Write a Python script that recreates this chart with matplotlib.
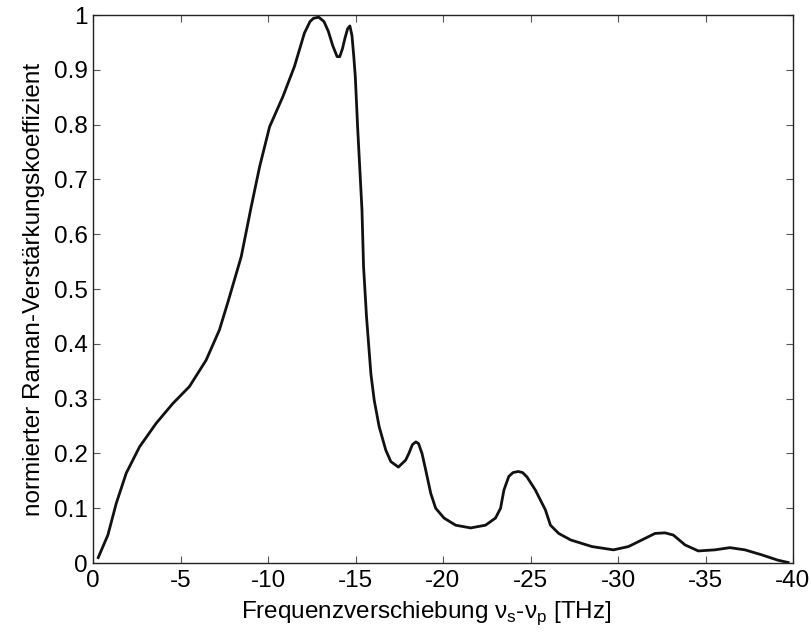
import numpy as np
import matplotlib
matplotlib.use('Agg')
import matplotlib.pyplot as plt

# frequency shift nu_s - nu_p [THz] and normalised Raman gain
shift = [-0.3, -0.85, -1.33, -1.9, -2.66, -3.61, -4.56, -5.51, -6.46, -7.22,
         -7.7, -8.47, -9.04, -9.52, -10.09, -10.85, -11.51, -12.08, -12.4, -12.6,
         -12.9, -13.2, -13.45, -13.7, -13.95, -14.1, -14.25, -14.4, -14.55, -14.68,
         -14.8, -14.9, -14.99, -15.12, -15.27, -15.37, -15.46, -15.63, -15.88, -16.07,
         -16.35, -16.73, -17.02, -17.45, -17.87, -18.05, -18.25, -18.45, -18.6, -18.8,
         -19.01, -19.3, -19.58, -20.06, -20.72, -21.58, -22.43, -23.0, -23.29, -23.48,
         -23.76, -24.0, -24.3, -24.55, -24.8, -25.28, -25.85, -26.14, -26.61, -27.3,
         -28.51, -29.74, -30.6, -31.36, -32.12, -32.69, -33.16, -33.83, -34.59, -35.54,
         -36.39, -37.25, -38.2, -39.15, -39.72]
gain = [0.010, 0.051, 0.109, 0.164, 0.212, 0.255, 0.291, 0.322, 0.370, 0.425,
        0.475, 0.559, 0.650, 0.723, 0.796, 0.851, 0.906, 0.967, 0.988, 0.994,
        0.996, 0.988, 0.970, 0.944, 0.924, 0.924, 0.938, 0.958, 0.975, 0.980,
        0.962, 0.925, 0.887, 0.796, 0.705, 0.644, 0.541, 0.449, 0.345, 0.297,
        0.249, 0.206, 0.185, 0.175, 0.188, 0.200, 0.216, 0.221, 0.218, 0.200,
        0.170, 0.127, 0.100, 0.082, 0.069, 0.064, 0.069, 0.082, 0.100, 0.133,
        0.158, 0.165, 0.167, 0.165, 0.157, 0.133, 0.097, 0.069, 0.054, 0.042,
        0.030, 0.024, 0.030, 0.042, 0.054, 0.055, 0.051, 0.033, 0.022, 0.024,
        0.028, 0.024, 0.015, 0.005, 0.001]

xticks = [0, -5, -10, -15, -20, -25, -30, -35, -40]
yticks = [0, 0.1, 0.2, 0.3, 0.4, 0.5, 0.6, 0.7, 0.8, 0.9, 1]
yticklabels = ['0', '0.1', '0.2', '0.3', '0.4', '0.5', '0.6', '0.7', '0.8', '0.9', '1']

plt.rcParams['font.family'] = ['Liberation Sans', 'DejaVu Sans']
plt.rcParams['mathtext.fontset'] = 'custom'
plt.rcParams['mathtext.rm'] = 'Liberation Sans'
fs = 17.5

fig = plt.figure(figsize=(8.11, 6.36), dpi=100)
ax = fig.add_axes([93/811, 73/636, 700/811, 548/636])
ax.plot(shift, gain, color='#111111', lw=2.0, solid_joinstyle='round')

ax.set_xlim(0, -40)
ax.set_ylim(0, 1)
ax.set_xticks(xticks)
ax.set_xticklabels([str(t) for t in xticks])
ax.set_yticks(yticks)
ax.set_yticklabels(yticklabels)
ax.tick_params(direction='in', length=5, width=0.8, color='#555555',
               top=True, right=True, labelsize=fs)
ax.tick_params(axis='x', pad=5)
ax.tick_params(axis='y', pad=4)
for s in ax.spines.values():
    s.set_linewidth(1.0)
    s.set_color('#222222')

ax.set_xlabel(r'Frequenzverschiebung ν$_\mathregular{s}$-ν$_\mathregular{p}$ [THz]',
              fontsize=fs)
ax.xaxis.set_label_coords(0.476, -0.067)
ax.xaxis.label.set_va('top')
ax.set_ylabel('normierter Raman-Verstärkungskoeffizient', fontsize=fs, labelpad=6)

fig.savefig('out.png', dpi=100)
